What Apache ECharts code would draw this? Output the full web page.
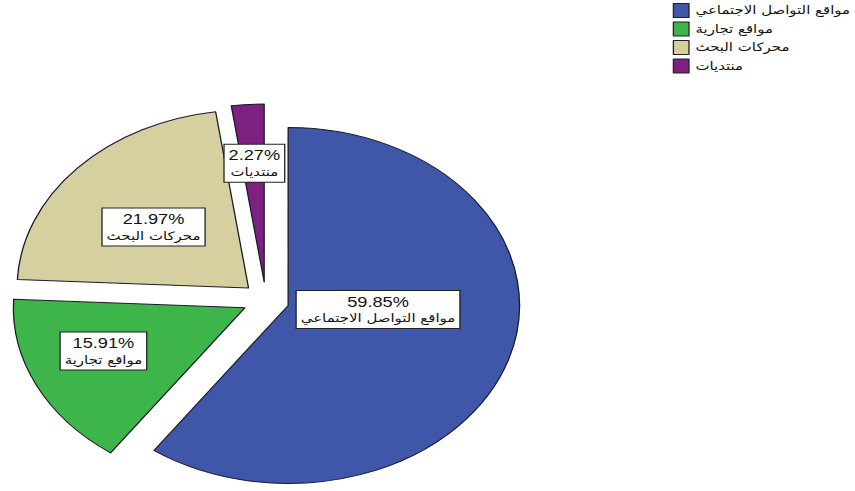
<!DOCTYPE html>
<html>
<head>
<meta charset="utf-8">
<script src="https://cdn.jsdelivr.net/npm/echarts@6/dist/echarts.min.js"></script>
<style>
  html, body { margin: 0; padding: 0; background: #fff; overflow: hidden; }
  /* the pie is drawn round and then widened into an oval */
  #chart { width: 658px; height: 491px; transform: scaleX(1.3); transform-origin: 0 0; }
</style>
</head>
<body>
<div id="chart"></div>
<script>
// Share of each source (percent)
const categories = ['مواقع التواصل الاجتماعي', 'مواقع تجارية', 'محركات البحث', 'منتديات'];
const shares = [59.85, 15.91, 21.97, 2.27];

const colors = ['#3F56A9', '#3DB54A', '#D6CFA0', '#7C2180'];
// nudges for the boxed labels inside each slice
const labelNudge = [[-18.5, -24], [-26, 3], [-5, 1], [-1, -27]];

const chart = echarts.init(document.getElementById('chart'), null, { renderer: 'svg' });

chart.setOption({
  animation: false,
  backgroundColor: '#ffffff',
  legend: {
    orient: 'vertical',
    left: 512.5,
    top: -2,
    itemWidth: 12,
    itemHeight: 14,
    itemGap: 3.5,
    selectedMode: false,
    icon: 'rect',
    itemStyle: { borderColor: '#222', borderWidth: 1 },
    textStyle: { fontFamily: 'DejaVu Sans, sans-serif', fontSize: 11.5, lineHeight: 14, color: '#111' },
    data: categories
  },
  series: [{
    type: 'pie',
    center: [204.5, 300],
    radius: [0, 178],
    startAngle: 90,
    clockwise: true,
    selectedMode: 'multiple',
    selectedOffset: 18,
    avoidLabelOverlap: false,
    emphasis: { disabled: true },
    itemStyle: { borderColor: '#1a1a2a', borderWidth: 1 },
    label: {
      position: 'inside',
      formatter: p => '{v|' + p.value.toFixed(2) + '%}\n{n|' + p.name + '}',
      backgroundColor: '#ffffff',
      borderColor: '#222',
      borderWidth: 1,
      padding: [2, 3, 1, 3],
      rich: {
        v: { fontFamily: 'Liberation Sans, Arial, sans-serif', fontSize: 14, color: '#111', lineHeight: 17, align: 'center' },
        n: { fontFamily: 'DejaVu Sans, sans-serif', fontSize: 11.5, color: '#111', lineHeight: 17, align: 'center' }
      }
    },
    labelLine: { show: false },
    labelLayout: p => ({ dx: labelNudge[p.dataIndex][0], dy: labelNudge[p.dataIndex][1] }),
    data: categories.map((name, i) => ({
      name,
      value: shares[i],
      selected: true,
      itemStyle: { color: colors[i] }
    }))
  }]
});
</script>
</body>
</html>
